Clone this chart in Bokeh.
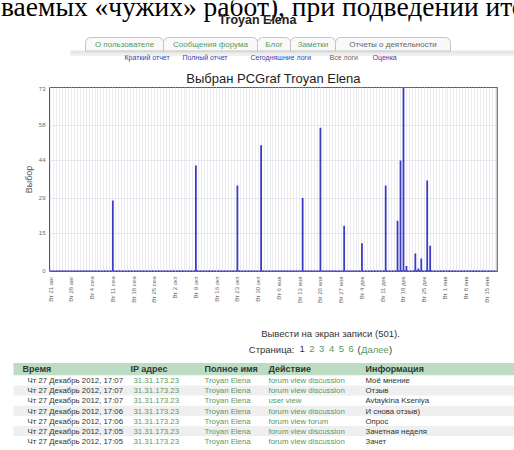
import math
import numpy as np
import pandas as pd
from bokeh.plotting import figure
from bokeh.models import Range1d, FixedTicker, Span, ColumnDataSource
from bokeh.layouts import column
from bokeh.embed import file_html
from bokeh.resources import INLINE
from bokeh.core.properties import value

# ---------------- data ----------------
intro_text = "ваемых «чужих» работ), при подведении итогов"
page_heading = "Troyan Elena"
tab_labels = ["О пользователе", "Сообщения форума", "Блог", "Заметки", "Отчеты о деятельности"]
subtab_labels = ["Краткий отчет", "Полный отчет", "Сегодняшние логи", "Все логи", "Оценка"]
chart_title = "Выбран PCGraf Troyan Elena"
y_axis_title = "Выбор"

start_date = "2012-08-21"
week_dates = ["2012-08-21", "2012-08-28", "2012-09-04", "2012-09-11", "2012-09-18",
              "2012-09-25", "2012-10-02", "2012-10-09", "2012-10-16", "2012-10-23",
              "2012-10-30", "2012-11-06", "2012-11-13", "2012-11-20", "2012-11-27",
              "2012-12-04", "2012-12-11", "2012-12-18", "2012-12-25", "2013-01-01",
              "2013-01-08", "2013-01-15"]
week_labels = ["Вт 21 авг", "Вт 28 авг", "Вт 4 сен", "Вт 11 сен", "Вт 18 сен",
               "Вт 25 сен", "Вт 2 окт", "Вт 9 окт", "Вт 16 окт", "Вт 23 окт",
               "Вт 30 окт", "Вт 6 ноя", "Вт 13 ноя", "Вт 20 ноя", "Вт 27 ноя",
               "Вт 4 дек", "Вт 11 дек", "Вт 18 дек", "Вт 25 дек", "Вт 1 янв",
               "Вт 8 янв", "Вт 15 янв"]
activity_dates = ["2012-09-11", "2012-10-09", "2012-10-23", "2012-10-31", "2012-11-14",
                  "2012-11-20", "2012-11-28", "2012-12-04", "2012-12-12", "2012-12-16",
                  "2012-12-17", "2012-12-18", "2012-12-19", "2012-12-22", "2012-12-23",
                  "2012-12-24", "2012-12-26", "2012-12-27"]
activity_counts = [28, 42, 34, 50, 29, 57, 18, 11, 34, 20, 44, 73, 2, 7, 1, 5, 36, 10]
y_tick_values = [0, 15, 29, 44, 58, 73]

records_text = "Вывести на экран записи (501)."
page_word = "Страница:"
page_numbers = ["1", "2", "3", "4", "5", "6"]
next_word = "Далее"

table_columns = ["Время", "IP адрес", "Полное имя", "Действие", "Информация"]
log_times = ["Чт 27 Декабрь 2012, 17:07", "Чт 27 Декабрь 2012, 17:07", "Чт 27 Декабрь 2012, 17:07",
             "Чт 27 Декабрь 2012, 17:06", "Чт 27 Декабрь 2012, 17:06", "Чт 27 Декабрь 2012, 17:05",
             "Чт 27 Декабрь 2012, 17:05"]
log_ips = ["31.31.173.23"] * 7
log_names = ["Troyan Elena"] * 7
log_actions = ["forum view discussion", "forum view discussion", "user view",
               "forum view discussion", "forum view forum", "forum view discussion",
               "forum view discussion"]
log_info = ["Моё мнение", "Отзыв", "Avtaykina Kseniya", "И снова отзыв)", "Опрос",
            "Зачетная неделя", "Зачет"]

# ---------------- helpers ----------------
FONT = value("Liberation Sans")
W = 514
TDY = -3  # text glyphs draw a little below their alphabetic anchor; compensate
t0 = pd.Timestamp(start_date)
week_pos = [int((pd.Timestamp(d) - t0).days) for d in week_dates]
act_pos = [int((pd.Timestamp(d) - t0).days) for d in activity_dates]

LINK_GREEN = "#559a6a"
LINK_BLUE = "#3a3aae"
DARK = "#333333"


def page_fig(y0, y1):
    f = figure(width=W, height=int(y1 - y0), x_range=Range1d(0, W), y_range=Range1d(y1, y0),
               output_backend="svg", toolbar_location=None, min_border=0, title=None,
               x_axis_location=None, y_axis_location=None, frame_align=False)
    f.min_border_left = 0
    f.min_border_right = 0
    f.min_border_top = 0
    f.min_border_bottom = 0
    f.grid.visible = False
    f.outline_line_color = None
    f.background_fill_color = "white"
    f.border_fill_color = "white"
    return f


def put_text(f, xs, ys, texts, size, color, align="left", bold=False, font=FONT):
    f.text(x=list(xs), y=[y + TDY for y in ys], text=list(texts), text_font=font,
           text_font_style="bold" if bold else "normal", text_font_size=size,
           text_align=align, text_baseline="alphabetic", text_color=color)


def tab_shape(x0, x1, yt, yb, r=5):
    xs, ys = [x0], [yb]
    for a in np.linspace(math.pi, 1.5 * math.pi, 7):
        xs.append(x0 + r + r * math.cos(a)); ys.append(yt + r + r * math.sin(a))
    for a in np.linspace(1.5 * math.pi, 2 * math.pi, 7):
        xs.append(x1 - r + r * math.cos(a)); ys.append(yt + r + r * math.sin(a))
    xs.append(x1); ys.append(yb)
    return xs, ys


# ---------------- header (page y 0..86) ----------------
hdr = page_fig(0, 86)
put_text(hdr, [0.5], [9], [intro_text], "27.5px", "#000", font=value("Liberation Serif"))
put_text(hdr, [257], [22.5], [page_heading], "12.5px", "#222", align="center", bold=True)

tab_edges = [(85, 163), (163, 257), (257, 290), (290, 335), (335, 450)]
hdr.quad(left=[70], right=[W], top=[50], bottom=[55.5], fill_color="#e6e6e6", line_color=None)
hdr.quad(left=[70], right=[W], top=[53], bottom=[55.5], fill_color="#f0f0f0", line_color=None)
txs, tys = zip(*[tab_shape(a, b, 37, 50.5) for a, b in tab_edges])
hdr.patches(xs=list(txs), ys=list(tys), fill_color="#f9f9f9", line_color="#c4c4c4", line_width=1)
put_text(hdr, [(a + b) / 2 for a, b in tab_edges], [46.5] * 5, tab_labels, "8px",
         [LINK_GREEN, LINK_GREEN, LINK_GREEN, LINK_GREEN, "#666666"], align="center")
sub_x = [124, 182, 250, 329, 372]
put_text(hdr, sub_x, [59.5] * 5, subtab_labels, "7px",
         [LINK_BLUE, LINK_BLUE, LINK_BLUE, "#666666", LINK_BLUE])
put_text(hdr, [273], [81], [chart_title], "13px", "#222", align="center")

# ---------------- chart (page y 86..318) ----------------
src = ColumnDataSource(dict(day=act_pos, count=activity_counts, date=activity_dates))
chart = figure(width=W, height=232, output_backend="svg", toolbar_location=None, title=None,
               x_range=Range1d(-0.35, 150.7), y_range=Range1d(-0.2, 73), frame_align=False,
               min_border_left=49, min_border_right=17, min_border_top=1, min_border_bottom=47)
chart.background_fill_color = "white"
chart.border_fill_color = "white"
chart.outline_line_color = "#5a5a5a"

xt = FixedTicker(ticks=week_pos, minor_ticks=list(range(0, 151)))
chart.xaxis.ticker = xt
chart.xaxis.major_label_overrides = {p: lab for p, lab in zip(week_pos, week_labels)}
chart.xaxis.major_label_orientation = math.pi / 2
chart.xaxis.major_label_text_font = "Liberation Sans"
chart.xaxis.major_label_text_font_size = "6px"
chart.xaxis.major_label_text_color = "#6a6a6a"
chart.xaxis.major_label_standoff = 5
chart.xaxis.major_tick_out = 0
chart.xaxis.major_tick_in = 0
chart.xaxis.minor_tick_out = 0
chart.xaxis.minor_tick_in = 0
chart.xaxis.axis_line_color = None
chart.xgrid.grid_line_color = "#ececf0"
chart.xgrid.minor_grid_line_color = "#ececf0"

chart.yaxis.ticker = FixedTicker(ticks=y_tick_values)
chart.yaxis.major_label_text_font = "Liberation Sans"
chart.yaxis.major_label_text_font_size = "6px"
chart.yaxis.major_label_text_color = "#6a6a6a"
chart.yaxis.major_label_standoff = 4
chart.yaxis.major_tick_out = 0
chart.yaxis.major_tick_in = 0
chart.yaxis.minor_tick_out = 0
chart.yaxis.minor_tick_in = 0
chart.yaxis.axis_line_color = None
chart.yaxis.axis_label = y_axis_title
chart.yaxis.axis_label_text_font = "Liberation Sans"
chart.yaxis.axis_label_text_font_size = "9px"
chart.yaxis.axis_label_text_font_style = "normal"
chart.yaxis.axis_label_text_color = "#555555"
chart.yaxis.axis_label_standoff = 2
chart.ygrid.grid_line_color = "#e8e8ec"

chart.vbar(x="day", top="count", bottom=0, width=0.6, source=src,
           fill_color="#3a3ac2", line_color=None)
chart.add_layout(Span(location=0, dimension="width", line_color="#3c3cc0",
                      line_width=1.5, line_dash="2 1"))
chart.add_layout(Span(location=150.7, dimension="height", line_color="#9a9a9a", line_width=2))

# ---------------- bottom: paging + log table (page y 318..450) ----------------
bot = page_fig(318, 450)
put_text(bot, [330], [336], [records_text], "9.5px", DARK, align="center")
put_text(bot, [294], [351.5], [page_word], "9.5px", DARK, align="right")
num_x = [299 + 9.8 * i for i in range(len(page_numbers))]
put_text(bot, num_x, [351.5] * len(page_numbers), page_numbers, "9.5px",
         [DARK] + [LINK_GREEN] * (len(page_numbers) - 1))
put_text(bot, [357, 360.5, 388.5], [351.5] * 3, ["(", next_word, ")"], "9.5px",
         [DARK, LINK_GREEN, DARK])

head_top, head_bot, row_h = 362.5, 375, 10.1
bot.quad(left=[13], right=[W], top=[head_top], bottom=[head_bot], fill_color="#bcdcc3", line_color=None)
n = len(log_times)
row_tops = [head_bot + row_h * i for i in range(n)]
bot.quad(left=[13] * n, right=[W] * n, top=row_tops, bottom=[t + row_h for t in row_tops],
         fill_color=["#ffffff" if i % 2 == 0 else "#efefef" for i in range(n)], line_color=None)
head_x = [22, 130, 204, 268, 365]
row_x = [27, 133, 204, 268, 365]
put_text(bot, head_x, [371.3] * 5, table_columns, "9px", "#2f3a33", bold=True)
cols = [log_times, log_ips, log_names, log_actions, log_info]
col_colors = [DARK, LINK_GREEN, LINK_GREEN, LINK_GREEN, DARK]
for cx, vals, cc in zip(row_x, cols, col_colors):
    put_text(bot, [cx] * n, [t + 8.2 for t in row_tops], vals, "7.8px", cc)

page = column(hdr, chart, bot, spacing=0)
open("out.html", "w").write(file_html(page, INLINE))
